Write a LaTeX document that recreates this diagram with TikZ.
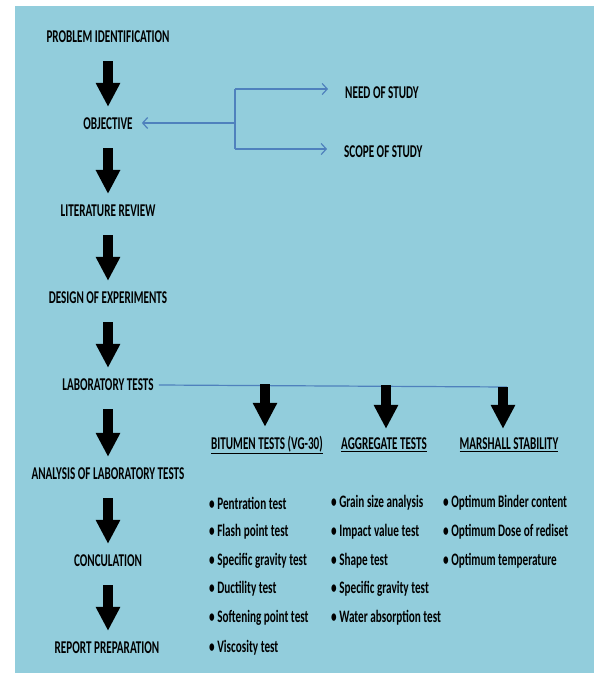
\documentclass[tikz,border=0pt]{standalone}
\usepackage{fontspec}
\setmainfont[FakeStretch=0.62]{Carlito}
\newfontfamily\itemfont[FakeStretch=0.64]{Carlito}
\usetikzlibrary{arrows.meta}
\definecolor{panelblue}{HTML}{92CDDC}
\definecolor{linkblue}{HTML}{4F81BD}
\tikzset{
  stage/.style={font=\fontsize{18}{20}\selectfont\bfseries, inner sep=0pt},
  item/.style={font=\itemfont\fontsize{17.5}{20}\selectfont\bfseries, inner sep=0pt, anchor=west},
  blockarrow/.style={line width=10pt, -{Triangle[width=23pt,length=24pt]}, shorten <=18pt, shorten >=11pt},
  link/.style={linkblue, line width=1.2pt},
  linkarrow/.style={link, -{Straight Barb[length=5pt,width=11pt]}},
}
\begin{document}
\begin{tikzpicture}[x=1pt,y=-1pt]
\useasboundingbox (0,0) rectangle (594,673);
\fill[panelblue] (15,6) rectangle (594,673);

% main column
\node[stage] (pi)  at (108,37)  {PROBLEM IDENTIFICATION};
\node[stage] (obj) at (108,124) {OBJECTIVE};
\node[stage] (lit) at (108,211) {LITERATURE REVIEW};
\node[stage] (doe) at (108,298) {DESIGN OF EXPERIMENTS};
\node[stage] (lab) at (108,385) {LABORATORY TESTS};
\node[stage] (ana) at (108,474) {ANALYSIS OF LABORATORY TESTS};
\node[stage] (con) at (108,561) {CONCULATION};
\node[stage] (rep) at (107,648) {REPORT PREPARATION};

\draw[blockarrow] (pi.south) -- (pi.south |- obj.north);
\draw[blockarrow] (obj.south) -- (obj.south |- lit.north);
\draw[blockarrow] (lit.south) -- (lit.south |- doe.north);
\draw[blockarrow] (doe.south) -- (doe.south |- lab.north);
\draw[blockarrow] (lab.south) -- (lab.south |- ana.north);
\draw[blockarrow] (ana.south) -- (ana.south |- con.north);
\draw[blockarrow] (con.south) -- (con.south |- rep.north);

% objective branches
\node[stage, anchor=west] (need)  at (345,93)  {NEED OF STUDY};
\node[stage, anchor=west] (scope) at (344,152) {SCOPE OF STUDY};
\coordinate (btop) at (235,89);
\coordinate (bmid) at (235,123);
\coordinate (bbot) at (235,149);
\draw[link] (btop) -- (bbot);
\draw[linkarrow, shorten >=9pt] (bmid) -- (bmid -| obj.east);
\draw[linkarrow, shorten >=17pt] (btop) -- (btop -| need.west);
\draw[linkarrow, shorten >=17pt] (bbot) -- (bbot -| scope.west);

% laboratory tests
\node[stage] (bit) at (267,445) {\underline{BITUMEN TESTS (VG-30)}};
\node[stage] (agg) at (384,445) {\underline{AGGREGATE TESTS}};
\node[stage] (msh) at (509,445) {\underline{MARSHALL STABILITY}};
\coordinate (labend) at (507,387);
\draw[link] ([xshift=5pt]lab.east) -- (labend);
\coordinate (tb) at (265,384);
\coordinate (ta) at (386,385);
\coordinate (tm) at (503,387);
\draw[blockarrow, shorten <=0pt, shorten >=9pt] (tb) -- (tb |- bit.north);
\draw[blockarrow, shorten <=0pt, shorten >=9pt] (ta) -- (ta |- agg.north);
\draw[blockarrow, shorten <=0pt, shorten >=9pt] (tm) -- (tm |- msh.north);

% test lists
\node[item] (b1) at (209,503) {• Pentration test};
\node[item] (b2) at (209,532) {• Flash point test};
\node[item] (b3) at (209,561) {• Specific gravity test};
\node[item] (b4) at (209,589) {• Ductility test};
\node[item] (b5) at (209,618) {• Softening point test};
\node[item] (b6) at (209,648) {• Viscosity test};

\node[item] (a1) at (331,503) {• Grain size analysis};
\node[item] (a2) at (331,532) {• Impact value test};
\node[item] (a3) at (331,561) {• Shape test};
\node[item] (a4) at (331,589) {• Specific gravity test};
\node[item] (a5) at (331,618) {• Water absorption test};

\node[item] (m1) at (443,503) {• Optimum Binder content};
\node[item] (m2) at (443,532) {• Optimum Dose of rediset};
\node[item] (m3) at (443,561) {• Optimum temperature};
\end{tikzpicture}
\end{document}
